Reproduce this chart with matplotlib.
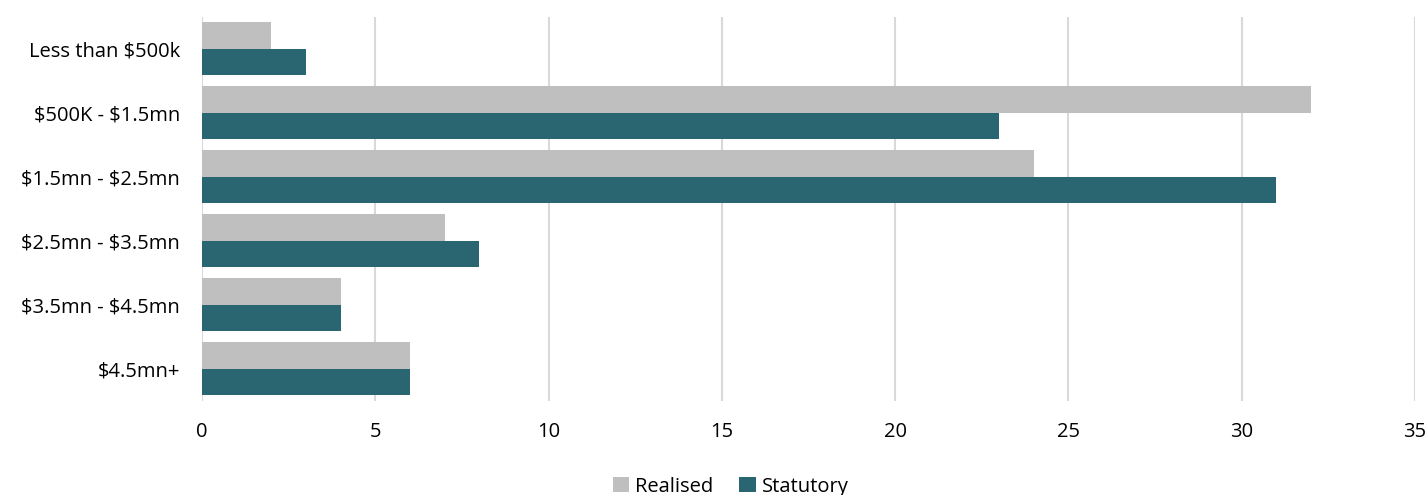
import matplotlib
matplotlib.use("Agg")
import matplotlib.pyplot as plt
import numpy as np

categories = ["Less than $500k", "$500K - $1.5mn", "$1.5mn - $2.5mn",
              "$2.5mn - $3.5mn", "$3.5mn - $4.5mn", "$4.5mn+"]
realised = [2, 32, 24, 7, 4, 6]
statutory = [3, 23, 31, 8, 4, 6]
x_ticks = [0, 5, 10, 15, 20, 25, 30, 35]

plt.rcParams["font.family"] = ["Open Sans", "DejaVu Sans"]
plt.rcParams["text.parse_math"] = False

fig = plt.figure(figsize=(14.27, 4.95), dpi=100)
ax = fig.add_axes([0.1416, 0.19, 0.8500, 0.7757])

y = np.arange(len(categories))
h = 0.414
ax.barh(y - h / 2, realised, height=h, color="#bfbfbf", label="Realised", zorder=3)
ax.barh(y + h / 2, statutory, height=h, color="#2a6672", label="Statutory", zorder=3)

ax.set_ylim(len(categories) - 0.5, -0.5)
ax.set_xlim(0, 35)
ax.set_xticks(x_ticks)
ax.set_yticks(y)
ax.set_yticklabels(categories)
ax.tick_params(axis="both", length=0, labelsize=14.5, colors="#000000")
ax.tick_params(axis="x", pad=15)
ax.tick_params(axis="y", pad=16)
ax.grid(axis="x", color="#d9d9d9", linewidth=1.5, zorder=0)
for s in ax.spines.values():
    s.set_visible(False)

fig.legend(loc="lower center", bbox_to_anchor=(0.512, -0.04), ncol=2, frameon=False,
           fontsize=14.5, handlelength=0.8, handleheight=0.8, handletextpad=0.3,
           columnspacing=1.3)

fig.savefig("out.png", dpi=100)
